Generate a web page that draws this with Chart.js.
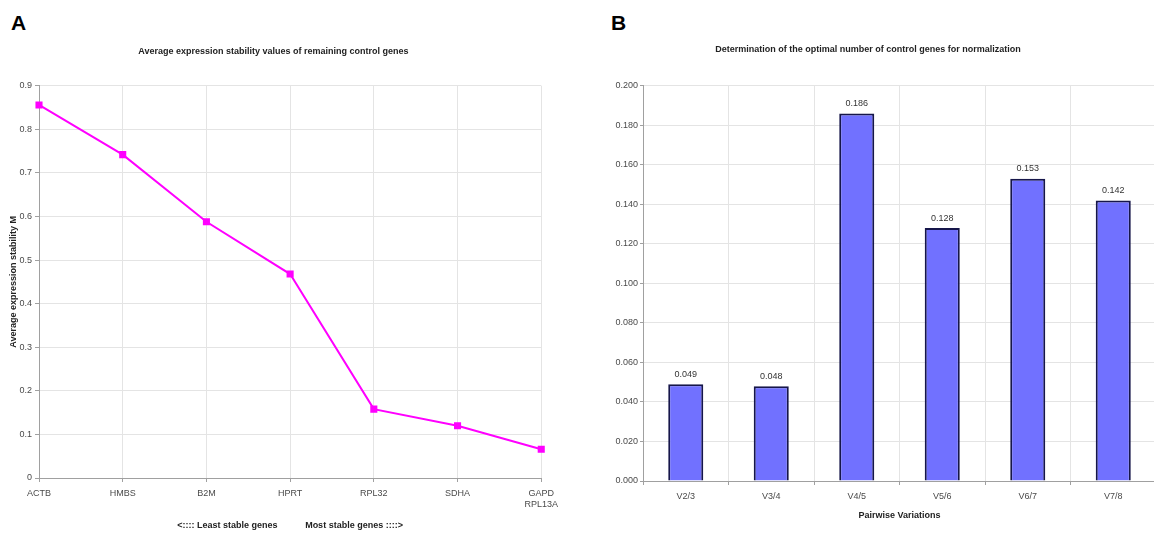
<!DOCTYPE html>
<html>
<head>
<meta charset="utf-8">
<script src="https://cdn.jsdelivr.net/npm/chart.js@4.4.0/dist/chart.umd.min.js"></script>
<style>
  html, body { margin: 0; padding: 0; background: #fff; overflow: hidden; }
  #wrap { position: relative; width: 1154px; height: 533px; overflow: hidden; background: #fff; }
  .panel { position: absolute; top: 0; }
  .tag { position: absolute; font: bold 21px "Liberation Sans", Arial, sans-serif; color: #000; line-height: 1; }
</style>
</head>
<body>
<div id="wrap">
  <div class="tag" style="left:11px;top:12px">A</div>
  <div class="tag" style="left:611px;top:12px">B</div>
  <div class="panel" style="left:0px"><canvas id="chartA" width="564" height="533"></canvas></div>
  <div class="panel" style="left:580px"><canvas id="chartB" width="600" height="533"></canvas></div>
</div>
<script>
// Panel A: geNorm average expression stability (M) as genes are removed
const genes = ['ACTB', 'HMBS', 'B2M', 'HPRT', 'RPL32', 'SDHA', ['GAPD', 'RPL13A']];
const stabilityM = [0.856, 0.742, 0.588, 0.468, 0.158, 0.120, 0.066];
const mAxisMax = 0.9;
const mAxisStep = 0.1;

// Panel B: pairwise variation V(n/n+1)
const pairs = ['V2/3', 'V3/4', 'V4/5', 'V5/6', 'V6/7', 'V7/8'];
const pairwiseV = [0.049, 0.048, 0.186, 0.128, 0.153, 0.142];
const vAxisMax = 0.2;
const vAxisStep = 0.02;

const SANS = '"Liberation Sans", Arial, sans-serif';
const GRID = '#e4e4e4';
const AXIS = '#a0a0a0';
const TICK_TXT = '#4a4a4a';

Chart.defaults.font.family = SANS;

new Chart(document.getElementById('chartA'), {
  type: 'line',
  data: {
    labels: genes,
    datasets: [{
      data: stabilityM,
      borderColor: '#ff00ff',
      backgroundColor: '#ff00ff',
      borderWidth: 2,
      pointStyle: 'rect',
      pointRadius: 3.6,
      pointBackgroundColor: '#ff00ff',
      pointBorderColor: '#ff00ff',
      tension: 0,
      fill: false
    }]
  },
  options: {
    responsive: false,
    animation: false,
    layout: { padding: { left: 0, right: 17, top: 0, bottom: 0 } },
    plugins: {
      legend: { display: false },
      tooltip: { enabled: false },
      title: {
        display: true,
        text: 'Average expression stability values of remaining control genes',
        color: '#222',
        font: { size: 9, weight: 'bold' },
        padding: { top: 46, bottom: 29 }
      }
    },
    scales: {
      x: {
        type: 'category',
        offset: false,
        grid: { color: GRID, tickLength: 4, tickColor: AXIS },
        border: { color: AXIS },
        ticks: { color: TICK_TXT, font: { size: 9 }, padding: 6, maxRotation: 0, autoSkip: false },
        title: {
          display: true,
          text: '<:::: Least stable genes           Most stable genes ::::>',
          color: '#222',
          font: { size: 9, weight: 'bold' },
          padding: { top: 0, bottom: 2 }
        },
        afterFit: s => { s.height = 55; }
      },
      y: {
        min: 0,
        max: mAxisMax,
        grid: { color: GRID, tickLength: 4, tickColor: AXIS },
        border: { color: AXIS },
        ticks: {
          stepSize: mAxisStep,
          color: TICK_TXT,
          font: { size: 9 },
          padding: 3,
          callback: v => (v === 0 ? '0' : v.toFixed(1))
        },
        title: {
          display: true,
          text: 'Average expression stability M',
          color: '#222',
          font: { size: 9, weight: 'bold' },
          padding: { top: 8, bottom: 0 }
        },
        afterFit: s => { s.width = 39; }
      }
    }
  }
});

// value labels printed above each bar
const barValueLabels = {
  id: 'barValueLabels',
  afterDatasetsDraw(chart) {
    const { ctx } = chart;
    const meta = chart.getDatasetMeta(0);
    const values = chart.data.datasets[0].data;
    ctx.save();
    ctx.font = '9px ' + SANS;
    ctx.fillStyle = '#333';
    ctx.textAlign = 'center';
    ctx.textBaseline = 'middle';
    meta.data.forEach((bar, i) => {
      ctx.fillText(values[i].toFixed(3), bar.x, bar.y - 10);
    });
    ctx.restore();
  }
};

new Chart(document.getElementById('chartB'), {
  type: 'bar',
  data: {
    labels: pairs,
    datasets: [{
      data: pairwiseV,
      backgroundColor: '#7171ff',
      borderColor: '#16164a',
      borderWidth: 2,
      categoryPercentage: 1,
      barPercentage: 0.41
    }]
  },
  plugins: [barValueLabels],
  options: {
    responsive: false,
    animation: false,
    layout: { padding: { left: 0, right: 24, top: 0, bottom: 0 } },
    plugins: {
      legend: { display: false },
      tooltip: { enabled: false },
      title: {
        display: true,
        text: 'Determination of the optimal number of control genes for normalization',
        color: '#222',
        font: { size: 9, weight: 'bold' },
        padding: { top: 44, bottom: 31 }
      }
    },
    scales: {
      x: {
        grid: { color: GRID, tickLength: 4, tickColor: AXIS },
        border: { color: AXIS },
        ticks: { color: TICK_TXT, font: { size: 9 }, padding: 6, maxRotation: 0, autoSkip: false },
        title: {
          display: true,
          text: 'Pairwise Variations',
          color: '#222',
          font: { size: 9, weight: 'bold' },
          padding: { top: 0, bottom: 12 }
        },
        afterFit: s => { s.height = 52; }
      },
      y: {
        min: 0,
        max: vAxisMax,
        grid: { color: GRID, tickLength: 3, tickColor: AXIS },
        border: { color: AXIS },
        ticks: {
          stepSize: vAxisStep,
          color: TICK_TXT,
          font: { size: 9 },
          padding: 2,
          callback: v => v.toFixed(3)
        },
        afterFit: s => { s.width = 63; }
      }
    }
  }
});
</script>
</body>
</html>
